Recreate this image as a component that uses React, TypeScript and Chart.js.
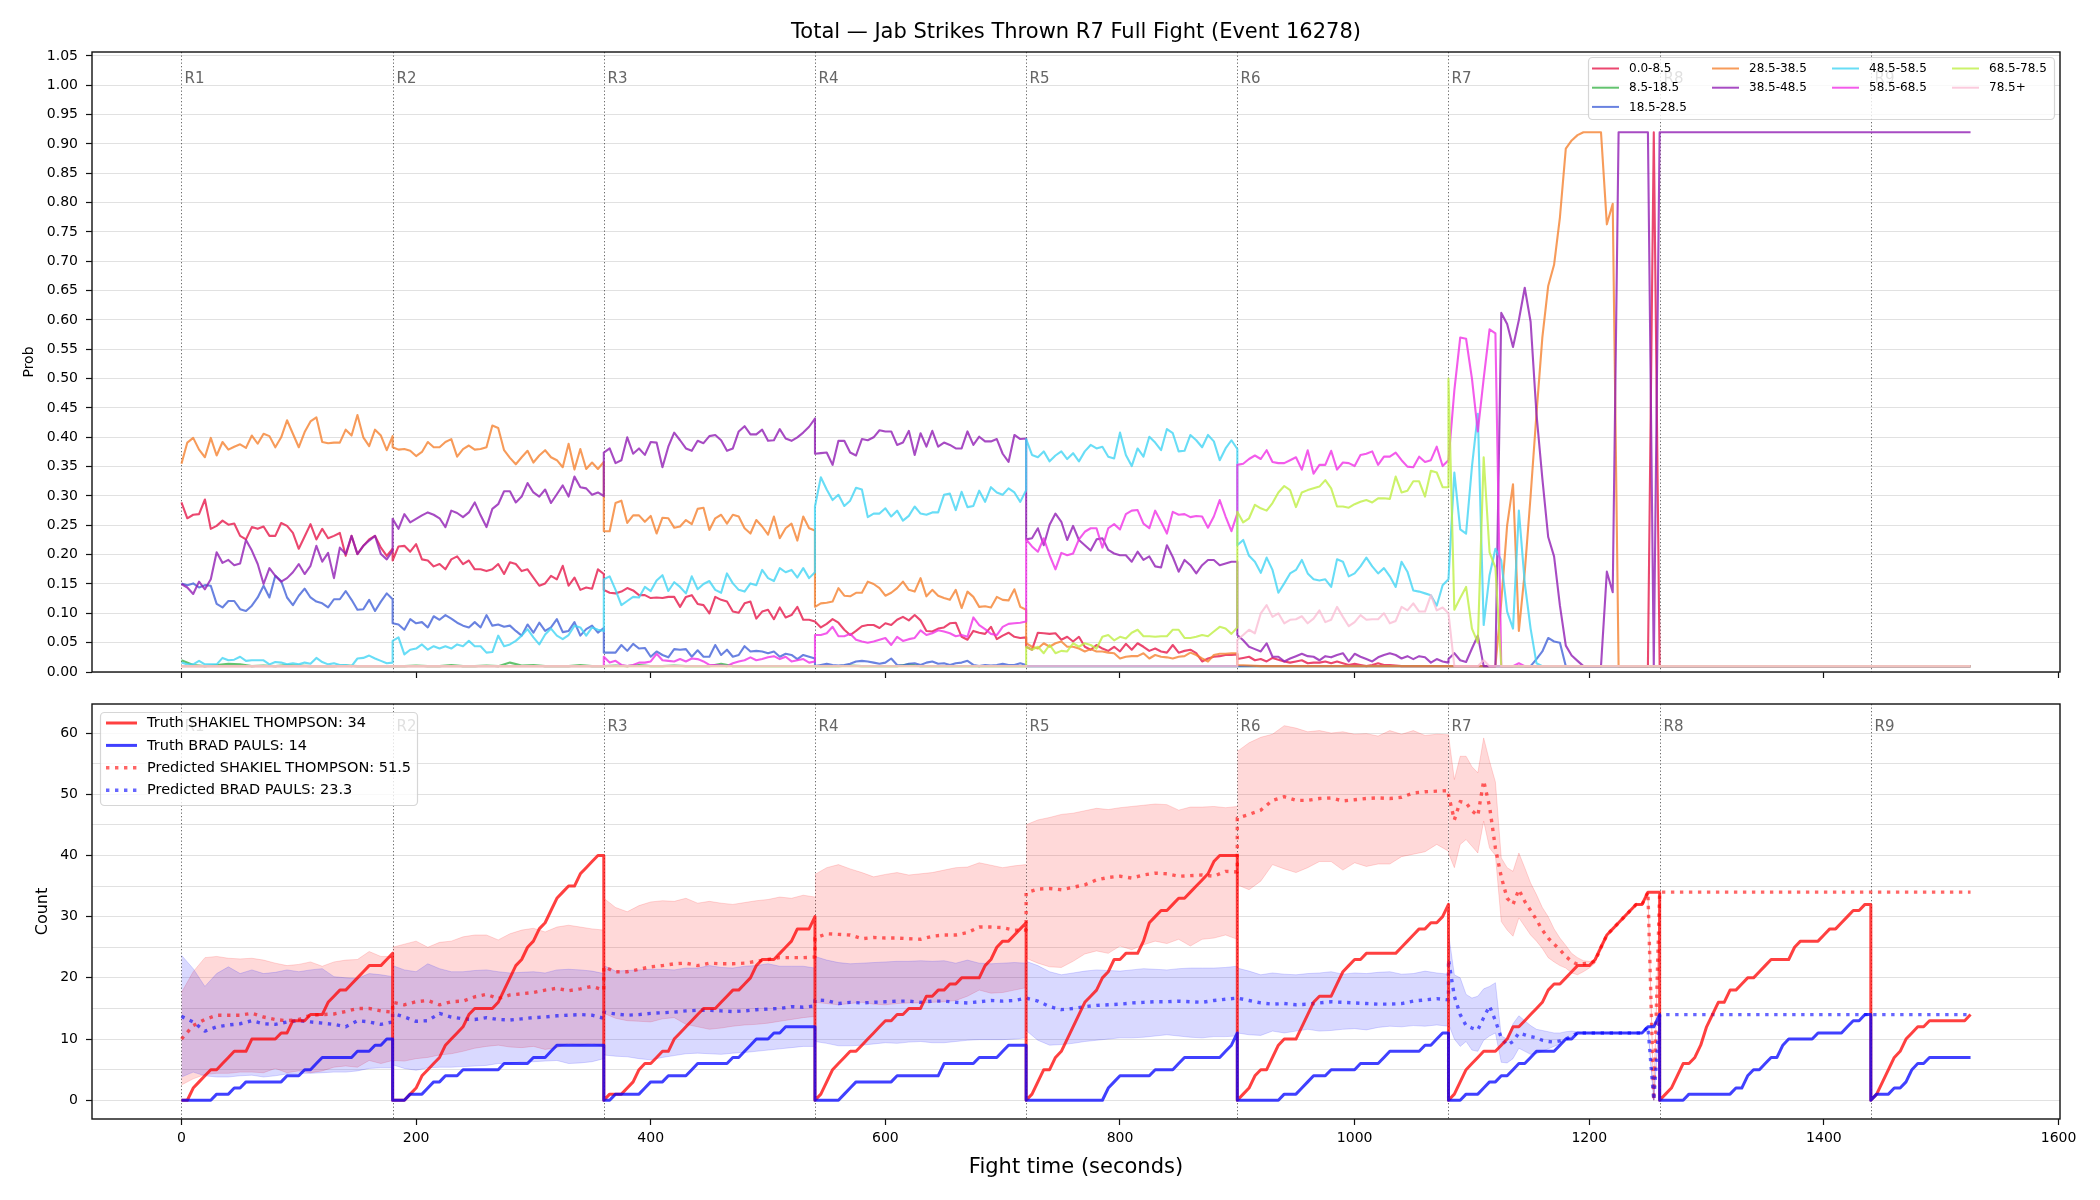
import React, { useEffect, useRef } from "react";
import { Chart, registerables } from "chart.js";

Chart.register(...registerables);

const FONT = '"DejaVu Sans", "Liberation Sans", sans-serif';

const TITLE = "Total — Jab Strikes Thrown R7 Full Fight (Event 16278)";
const X_TITLE = "Fight time (seconds)";

// Rounds: each value list is spread evenly from the round start to its end.
const ROUND_LABELS = ["R1", "R2", "R3", "R4", "R5", "R6", "R7", "R8", "R9"];
const ROUND_STARTS = [0, 180, 360, 540, 720, 900, 1080, 1260, 1440];
const ROUND_ENDS = [180, 360, 540, 720, 900, 1080, 1260, 1440, 1525];

const BIN_LABELS = ["0.0-8.5", "8.5-18.5", "18.5-28.5", "28.5-38.5", "38.5-48.5", "48.5-58.5", "58.5-68.5", "68.5-78.5", "78.5+"];
const BIN_COLORS = [
  "rgba(230,25,75,0.8)", "rgba(60,180,75,0.8)", "rgba(67,99,216,0.8)", "rgba(245,130,49,0.8)",
  "rgba(145,30,180,0.8)", "rgba(66,212,244,0.8)", "rgba(240,50,230,0.8)", "rgba(191,239,69,0.8)", "rgba(250,190,212,0.8)",
];

// ---- bin probabilities, one list per round ----
const PROB_0_8 = [
  [0.289,0.262,0.268,0.269,0.294,0.244,0.249,0.258,0.251,0.253,0.232,0.226,0.247,0.244,0.248,0.232,0.232,0.254,0.249,0.237,0.210,0.231,0.252,0.226,0.244,0.228,0.232,0.237,0.198,0.232,0.201,0.215,0.226,0.232,0.212,0.198,0.210],
  [0.190,0.214,0.215,0.205,0.218,0.192,0.190,0.180,0.184,0.175,0.192,0.197,0.184,0.190,0.175,0.175,0.172,0.175,0.184,0.167,0.187,0.184,0.172,0.175,0.161,0.147,0.151,0.164,0.158,0.181,0.147,0.161,0.140,0.144,0.142,0.175,0.167],
  [0.140,0.135,0.134,0.137,0.143,0.139,0.131,0.131,0.126,0.127,0.126,0.128,0.128,0.111,0.128,0.131,0.116,0.114,0.100,0.128,0.123,0.120,0.103,0.101,0.117,0.120,0.091,0.103,0.106,0.090,0.110,0.093,0.097,0.111,0.089,0.089,0.086],
  [0.086,0.076,0.082,0.090,0.084,0.072,0.063,0.070,0.078,0.080,0.080,0.075,0.083,0.080,0.089,0.094,0.088,0.097,0.088,0.070,0.069,0.074,0.076,0.083,0.084,0.060,0.055,0.070,0.067,0.065,0.077,0.056,0.062,0.067,0.060,0.058,0.059],
  [0.043,0.038,0.067,0.066,0.065,0.066,0.055,0.060,0.052,0.060,0.043,0.038,0.046,0.040,0.036,0.043,0.035,0.048,0.038,0.049,0.043,0.036,0.040,0.035,0.033,0.046,0.033,0.036,0.038,0.032,0.018,0.023,0.026,0.027,0.029,0.029,0.030],
  [0.022,0.024,0.026,0.020,0.022,0.018,0.024,0.021,0.018,0.016,0.018,0.020,0.015,0.016,0.016,0.018,0.015,0.018,0.015,0.012,0.014,0.012,0.010,0.012,0.015,0.012,0.012,0.011,0.010,0.010,0.010,0.010,0.010,0.010,0.010,0.010,0.010],
  [0.01,0.01,0.01,0.01,0.01,0.01,0.01,0.01,0.01,0.01,0.01,0.01,0.01,0.01,0.01,0.01,0.01,0.01,0.01,0.01,0.01,0.01,0.01,0.01,0.01,0.01,0.01,0.01,0.01,0.01,0.01,0.01,0.01,0.01,0.01,0.92,0.01],
  [0.01, 0.01],
  [0.01, 0.01],
];
const PROB_8_18 = [
  [0.020,0.012,0.010,0.012,0.014,0.013,0.010,0.011,0.010,0.012,0.011,0.010,0.010,0.010,0.011,0.010,0.010,0.010,0.010],
  [0.010,0.010,0.011,0.010,0.010,0.012,0.010,0.010,0.011,0.010,0.016,0.011,0.012,0.010,0.010,0.010,0.012,0.010,0.010],
  [0.010,0.011,0.010,0.012,0.010,0.010,0.011,0.010,0.010,0.010,0.014,0.010,0.010,0.010,0.010,0.010,0.010,0.010,0.010],
  [0.010,0.010,0.010,0.011,0.010,0.010,0.010,0.010,0.013,0.010,0.010,0.010,0.010,0.010,0.010,0.010,0.010,0.010,0.010],
  [0.01, 0.01], [0.01, 0.01], [0.01, 0.01], [0.01, 0.01], [0.01, 0.01],
];
const PROB_18_28 = [
  [0.151,0.148,0.151,0.144,0.148,0.147,0.116,0.110,0.121,0.121,0.107,0.104,0.113,0.127,0.147,0.127,0.164,0.155,0.127,0.114,0.130,0.142,0.127,0.120,0.117,0.110,0.124,0.124,0.138,0.123,0.106,0.107,0.123,0.104,0.120,0.134,0.124],
  [0.083,0.081,0.072,0.090,0.083,0.085,0.076,0.095,0.089,0.097,0.091,0.084,0.079,0.076,0.085,0.076,0.097,0.079,0.081,0.077,0.079,0.070,0.062,0.081,0.067,0.084,0.070,0.076,0.090,0.068,0.070,0.085,0.062,0.073,0.079,0.067,0.075],
  [0.033,0.033,0.033,0.046,0.036,0.048,0.040,0.041,0.026,0.035,0.029,0.025,0.039,0.038,0.039,0.026,0.037,0.026,0.026,0.046,0.029,0.038,0.026,0.029,0.044,0.035,0.036,0.035,0.032,0.035,0.026,0.031,0.029,0.022,0.029,0.026,0.023],
  [0.010,0.012,0.014,0.012,0.011,0.012,0.014,0.018,0.019,0.018,0.016,0.014,0.016,0.023,0.012,0.011,0.014,0.015,0.012,0.016,0.018,0.014,0.015,0.012,0.015,0.016,0.019,0.012,0.010,0.012,0.011,0.012,0.014,0.012,0.012,0.015,0.012],
  [0.01, 0.01],
  [0.01, 0.01],
  [0.01,0.01,0.01,0.01,0.01,0.01,0.01,0.01,0.01,0.01,0.01,0.01,0.01,0.01,0.01,0.022,0.035,0.058,0.052,0.050,0.01,0.01,0.01,0.01,0.01,0.01,0.01,0.01,0.01,0.01,0.01,0.01,0.01,0.01,0.01,0.01,0.01],
  [0.01, 0.01],
  [0.01, 0.01],
];
const PROB_28_38 = [
  [0.355,0.391,0.399,0.379,0.366,0.399,0.369,0.392,0.379,0.384,0.388,0.382,0.403,0.389,0.406,0.402,0.383,0.400,0.429,0.406,0.383,0.409,0.427,0.434,0.392,0.390,0.391,0.391,0.413,0.403,0.438,0.400,0.385,0.413,0.403,0.378,0.402],
  [0.383,0.379,0.380,0.377,0.368,0.375,0.392,0.383,0.383,0.392,0.397,0.367,0.380,0.386,0.379,0.380,0.383,0.420,0.416,0.378,0.365,0.354,0.366,0.377,0.357,0.369,0.378,0.366,0.361,0.349,0.389,0.345,0.380,0.346,0.357,0.346,0.358],
  [0.240,0.240,0.288,0.292,0.254,0.267,0.267,0.256,0.266,0.236,0.263,0.262,0.246,0.248,0.259,0.252,0.278,0.280,0.242,0.262,0.268,0.253,0.268,0.265,0.245,0.236,0.259,0.248,0.234,0.265,0.228,0.245,0.253,0.224,0.265,0.245,0.241],
  [0.111,0.117,0.118,0.120,0.143,0.130,0.129,0.135,0.135,0.154,0.150,0.143,0.130,0.135,0.143,0.154,0.140,0.137,0.160,0.129,0.140,0.130,0.126,0.123,0.140,0.109,0.137,0.128,0.111,0.112,0.110,0.128,0.123,0.122,0.141,0.111,0.106],
  [0.049,0.043,0.040,0.049,0.043,0.049,0.052,0.043,0.043,0.040,0.035,0.039,0.035,0.035,0.033,0.032,0.023,0.026,0.027,0.027,0.032,0.023,0.029,0.026,0.025,0.023,0.026,0.027,0.033,0.029,0.023,0.018,0.029,0.031,0.031,0.032,0.032],
  [0.012,0.011,0.010,0.010,0.010,0.010,0.010,0.010,0.010,0.010,0.010,0.010,0.010,0.010,0.010,0.010,0.010,0.010,0.010],
  [0.01,0.01,0.01,0.01,0.01,0.01,0.01,0.01,0.01,0.12,0.25,0.32,0.07,0.17,0.30,0.44,0.57,0.658,0.694,0.775,0.892,0.906,0.915,0.92,0.92,0.92,0.92,0.763,0.798,0.01,0.01,0.01,0.01,0.01,0.01,0.01,0.01],
  [0.01, 0.01],
  [0.01, 0.01],
];
const PROB_38_48 = [
  [0.150,0.144,0.133,0.154,0.141,0.158,0.204,0.186,0.191,0.182,0.185,0.225,0.207,0.184,0.150,0.177,0.164,0.154,0.160,0.170,0.184,0.167,0.181,0.215,0.188,0.203,0.160,0.212,0.201,0.232,0.201,0.215,0.224,0.232,0.201,0.192,0.207],
  [0.261,0.244,0.269,0.255,0.261,0.267,0.272,0.268,0.262,0.247,0.275,0.271,0.264,0.272,0.289,0.267,0.247,0.278,0.286,0.308,0.308,0.289,0.299,0.322,0.306,0.299,0.311,0.288,0.303,0.318,0.299,0.333,0.315,0.313,0.302,0.306,0.300],
  [0.374,0.381,0.356,0.361,0.400,0.372,0.381,0.370,0.392,0.391,0.349,0.384,0.408,0.395,0.381,0.377,0.394,0.390,0.402,0.404,0.395,0.377,0.381,0.410,0.419,0.405,0.405,0.413,0.394,0.395,0.414,0.398,0.394,0.400,0.408,0.418,0.432],
  [0.372,0.373,0.374,0.353,0.394,0.394,0.374,0.369,0.397,0.395,0.400,0.412,0.410,0.410,0.387,0.391,0.411,0.370,0.407,0.384,0.411,0.384,0.391,0.387,0.381,0.381,0.410,0.387,0.401,0.393,0.393,0.397,0.372,0.358,0.404,0.397,0.398],
  [0.226,0.228,0.245,0.216,0.251,0.270,0.256,0.225,0.249,0.225,0.216,0.207,0.226,0.228,0.208,0.202,0.199,0.199,0.188,0.205,0.191,0.197,0.180,0.178,0.216,0.196,0.171,0.191,0.182,0.168,0.182,0.191,0.191,0.182,0.185,0.188,0.188],
  [0.063,0.054,0.043,0.039,0.035,0.049,0.026,0.026,0.018,0.023,0.027,0.031,0.027,0.026,0.020,0.027,0.025,0.029,0.032,0.018,0.031,0.026,0.022,0.018,0.025,0.029,0.032,0.029,0.023,0.027,0.022,0.027,0.025,0.016,0.022,0.018,0.016],
  [0.022,0.032,0.020,0.017,0.040,0.062,0.010,0.010,0.010,0.612,0.593,0.554,0.600,0.655,0.597,0.440,0.330,0.230,0.197,0.113,0.045,0.028,0.019,0.010,0.010,0.010,0.010,0.171,0.136,0.920,0.920,0.920,0.920,0.920,0.920,0.010,0.920],
  [0.92, 0.92],
  [0.92, 0.92],
];
const PROB_48_58 = [
  [0.016,0.013,0.013,0.019,0.013,0.013,0.013,0.024,0.020,0.021,0.026,0.019,0.020,0.020,0.020,0.013,0.017,0.016,0.013,0.015,0.013,0.016,0.014,0.024,0.017,0.013,0.015,0.012,0.012,0.010,0.023,0.024,0.028,0.023,0.019,0.015,0.016],
  [0.053,0.059,0.030,0.038,0.040,0.047,0.038,0.044,0.040,0.044,0.040,0.047,0.044,0.053,0.044,0.044,0.033,0.034,0.062,0.044,0.047,0.053,0.062,0.073,0.059,0.047,0.064,0.074,0.062,0.056,0.063,0.079,0.076,0.062,0.076,0.072,0.070],
  [0.158,0.163,0.140,0.114,0.121,0.128,0.127,0.145,0.138,0.156,0.165,0.138,0.153,0.145,0.134,0.163,0.141,0.150,0.155,0.140,0.135,0.168,0.151,0.140,0.137,0.151,0.148,0.174,0.160,0.155,0.177,0.170,0.174,0.161,0.177,0.160,0.170],
  [0.282,0.332,0.311,0.293,0.302,0.283,0.292,0.314,0.311,0.264,0.270,0.270,0.279,0.265,0.275,0.258,0.266,0.282,0.270,0.268,0.272,0.272,0.302,0.304,0.276,0.307,0.281,0.283,0.309,0.290,0.315,0.306,0.302,0.313,0.306,0.290,0.310],
  [0.397,0.370,0.366,0.376,0.359,0.369,0.376,0.363,0.373,0.359,0.376,0.387,0.381,0.384,0.367,0.364,0.408,0.370,0.351,0.381,0.367,0.401,0.391,0.378,0.414,0.407,0.376,0.377,0.404,0.395,0.383,0.404,0.393,0.361,0.381,0.395,0.380],
  [0.216,0.225,0.198,0.188,0.169,0.195,0.174,0.135,0.151,0.168,0.174,0.191,0.168,0.158,0.156,0.158,0.145,0.192,0.188,0.163,0.168,0.180,0.195,0.180,0.168,0.177,0.163,0.145,0.188,0.171,0.139,0.137,0.134,0.131,0.113,0.148,0.158],
  [0.158,0.340,0.243,0.236,0.350,0.440,0.080,0.165,0.210,0.190,0.103,0.074,0.275,0.152,0.074,0.015,0.01,0.01,0.01,0.01,0.01,0.01,0.01,0.01,0.01,0.01,0.01,0.01,0.01,0.01,0.01,0.01,0.01,0.01,0.01,0.01,0.01],
  [0.01, 0.01],
  [0.01, 0.01],
];
const PROB_58_68 = [
  [0.01, 0.01],
  [0.01, 0.01],
  [0.026,0.016,0.019,0.012,0.010,0.012,0.016,0.016,0.018,0.031,0.020,0.019,0.018,0.022,0.018,0.023,0.022,0.018,0.012,0.012,0.011,0.010,0.015,0.018,0.020,0.025,0.020,0.022,0.025,0.027,0.022,0.026,0.018,0.020,0.022,0.016,0.018],
  [0.063,0.063,0.066,0.077,0.061,0.061,0.065,0.055,0.052,0.050,0.052,0.055,0.058,0.046,0.060,0.053,0.056,0.058,0.071,0.063,0.066,0.071,0.069,0.066,0.061,0.063,0.060,0.093,0.080,0.073,0.065,0.063,0.077,0.082,0.083,0.084,0.086],
  [0.226,0.214,0.205,0.228,0.199,0.175,0.203,0.199,0.202,0.226,0.239,0.245,0.245,0.212,0.245,0.252,0.243,0.269,0.275,0.276,0.253,0.245,0.275,0.256,0.236,0.273,0.268,0.269,0.264,0.266,0.265,0.246,0.265,0.293,0.265,0.240,0.270],
  [0.353,0.355,0.363,0.369,0.363,0.378,0.358,0.356,0.356,0.361,0.366,0.345,0.378,0.338,0.353,0.353,0.377,0.345,0.357,0.356,0.351,0.370,0.372,0.376,0.353,0.367,0.367,0.374,0.361,0.350,0.349,0.367,0.358,0.361,0.384,0.351,0.361],
  [0.360,0.480,0.570,0.568,0.500,0.410,0.500,0.584,0.577,0.01,0.01,0.01,0.015,0.01,0.01,0.01,0.01,0.01,0.01,0.01,0.01,0.01,0.01,0.01,0.01,0.01,0.01,0.01,0.01,0.01,0.01,0.01,0.01,0.01,0.01,0.01,0.01],
  [0.01, 0.01],
  [0.01, 0.01],
];
const PROB_68_78 = [
  [0.01, 0.01],
  [0.01, 0.01],
  [0.01, 0.01],
  [0.01, 0.01],
  [0.043,0.038,0.043,0.032,0.046,0.032,0.036,0.035,0.049,0.043,0.049,0.046,0.040,0.060,0.063,0.054,0.060,0.057,0.067,0.072,0.061,0.061,0.060,0.061,0.061,0.072,0.072,0.058,0.058,0.060,0.063,0.061,0.069,0.077,0.074,0.065,0.076],
  [0.273,0.255,0.262,0.285,0.279,0.275,0.288,0.306,0.317,0.310,0.281,0.306,0.310,0.313,0.316,0.327,0.313,0.282,0.282,0.280,0.286,0.290,0.293,0.289,0.296,0.296,0.295,0.333,0.306,0.309,0.325,0.325,0.299,0.343,0.340,0.315,0.315],
  [0.500,0.106,0.126,0.145,0.074,0.050,0.366,0.204,0.178,0.01,0.01,0.01,0.01,0.01,0.01,0.01,0.01,0.01,0.01,0.01,0.01,0.01,0.01,0.01,0.01,0.01,0.01,0.01,0.01,0.01,0.01,0.01,0.01,0.01,0.01,0.01,0.01],
  [0.01, 0.01],
  [0.01, 0.01],
];
const PROB_78_UP = [
  [0.01, 0.01],
  [0.01, 0.01],
  [0.01, 0.01],
  [0.01, 0.01],
  [0.01, 0.01],
  [0.055,0.063,0.072,0.066,0.100,0.114,0.094,0.100,0.083,0.089,0.090,0.095,0.083,0.091,0.105,0.085,0.089,0.111,0.094,0.078,0.085,0.097,0.089,0.090,0.090,0.100,0.083,0.087,0.111,0.105,0.117,0.103,0.103,0.131,0.105,0.110,0.100],
  [0.100,0.01,0.01,0.01,0.01,0.01,0.02,0.01,0.01,0.01,0.01,0.01,0.01,0.01,0.01,0.01,0.01,0.01,0.01,0.01,0.01,0.01,0.01,0.01,0.01,0.01,0.01,0.01,0.01,0.01,0.01,0.01,0.01,0.01,0.01,0.01,0.01],
  [0.01, 0.01],
  [0.01, 0.01],
];
const PROB_BINS = [PROB_0_8, PROB_8_18, PROB_18_28, PROB_28_38, PROB_38_48, PROB_48_58, PROB_58_68, PROB_68_78, PROB_78_UP];

// ---- cumulative counts ----
const TRUTH_THOMPSON = [
  [0,0,2,3,4,5,5,6,7,8,8,8,10,10,10,10,10,11,11,13,13,13,14,14,14,16,17,18,18,19,20,21,22,22,22,23,24],
  [0,0,0,1,2,4,5,6,7,9,10,11,12,14,15,15,15,15,16,18,20,22,23,25,26,28,29,31,33,34,35,35,37,38,39,40,40],
  [0,1,1,1,2,3,5,6,6,7,8,8,10,11,12,13,14,15,15,15,16,17,18,18,19,20,22,23,23,23,24,25,26,28,28,28,30],
  [0,1,3,5,6,7,8,8,9,10,11,12,13,13,14,14,15,15,15,17,17,18,18,19,19,20,20,20,20,22,23,25,26,26,27,28,29],
  [0,1,3,5,5,7,8,10,12,14,16,17,18,20,21,23,23,24,24,24,26,29,30,31,31,32,33,33,34,35,36,37,39,40,40,40,40],
  [0,1,2,4,5,5,7,9,10,10,10,12,14,16,17,17,17,19,21,22,23,23,24,24,24,24,24,24,25,26,27,28,28,29,29,30,32],
  [0,1,3,5,6,7,8,8,8,9,10,12,12,13,14,15,16,18,19,19,20,21,22,22,22,23,25,27,28,29,30,31,32,32,34,34,34],
  [0,1,2,4,6,6,7,9,12,14,16,16,18,18,19,20,20,21,22,23,23,23,23,25,26,26,26,26,27,28,28,29,30,31,31,32,32],
  [0,1,3,5,7,8,10,11,12,12,13,13,13,13,13,13,13,14],
];
const TRUTH_PAULS = [
  [0,0,0,0,0,0,1,1,1,2,2,3,3,3,3,3,3,3,4,4,4,5,5,6,7,7,7,7,7,7,8,8,8,9,9,10,10],
  [0,0,0,1,1,1,2,3,3,4,4,4,5,5,5,5,5,5,5,6,6,6,6,6,7,7,7,8,9,9,9,9,9,9,9,9,9],
  [0,0,1,1,1,1,1,2,3,3,3,4,4,4,4,5,6,6,6,6,6,6,7,7,8,9,10,10,10,11,11,12,12,12,12,12,12],
  [0,0,0,0,0,1,2,3,3,3,3,3,3,3,4,4,4,4,4,4,4,4,6,6,6,6,6,6,7,7,7,7,8,9,9,9,9],
  [0,0,0,0,0,0,0,0,0,0,0,0,0,0,2,3,4,4,4,4,4,4,5,5,5,5,6,7,7,7,7,7,7,7,8,9,11],
  [0,0,0,0,0,0,0,0,1,1,1,2,3,4,4,4,5,5,5,5,5,6,6,6,6,7,8,8,8,8,8,8,9,9,10,11,11],
  [0,0,0,1,1,1,2,3,3,4,4,5,6,6,7,8,8,8,8,9,10,10,11,11,11,11,11,11,11,11,11,11,11,11,12,12,14],
  [0,0,0,0,0,1,1,1,1,1,1,1,1,2,2,4,5,5,6,7,7,9,10,10,10,10,10,11,11,11,11,11,12,13,13,14,14],
  [0,1,1,1,2,2,3,5,6,6,7,7,7,7,7,7,7,7],
];
const PRED_THOMPSON = [
  [10.0,12.2,13.2,13.9,13.9,13.9,14.2,13.6,13.2,13.0,13.2,13.9,14.0,14.1,14.5,15.0,15.0,14.6,14.4],
  [16.0,15.6,16.1,16.3,15.6,16.1,16.2,16.9,17.3,16.6,17.2,17.4,17.6,18.0,18.3,17.9,18.2,18.6,18.0],
  [21.8,21.0,21.0,21.4,21.8,22.0,22.3,22.4,22.0,22.4,22.3,22.3,22.4,22.7,23.0,23.3,23.3,23.3,23.4],
  [26.5,27.2,27.1,27.0,26.4,26.6,26.5,26.5,26.4,26.3,26.8,27.0,27.0,27.4,28.3,28.3,28.2,27.8,27.8],
  [33.9,34.5,34.6,34.4,34.8,35.2,36.0,36.4,36.6,36.3,36.8,37.1,37.0,36.6,36.7,36.8,36.6,37.4,37.3],
  [46.1,46.7,47.4,49.0,49.6,49.0,49.0,49.3,49.4,48.9,49.1,49.3,49.4,49.3,49.5,50.2,50.4,50.5,50.6],
  [49.9,45.8,48.8,48.6,47.3,46.5,52.2,48.0,41.2,36.5,33.0,32.0,34.4,32.5,31.0,29.5,27.8,26.5,25.5,24.6,23.5,22.7,22.2,22.3,22.4,22.7,25,27,28,29,30,31,32,32,34,0,34],
  [34, 34],
  [34, 34],
];
const PRED_PAULS = [
  [13.7,12.8,11.3,12.0,12.3,12.5,13.0,12.5,12.4,12.8,13.0,12.8,12.6,12.4,12.0,13.0,12.8,12.4,12.8],
  [14.2,13.6,12.9,13.0,14.2,13.6,13.3,13.2,13.5,13.2,13.1,13.3,13.5,13.6,13.8,13.9,14.0,13.9,13.4],
  [14.4,14.1,13.9,14.0,14.2,14.3,14.4,14.6,14.7,14.7,14.6,14.5,14.6,14.8,14.9,15.0,15.3,15.2,15.4],
  [16.4,16.3,15.8,16.0,15.9,16.0,16.1,16.2,16.2,16.0,16.2,16.2,16.0,15.9,16.1,16.3,16.2,16.3,16.7],
  [16.7,16.2,15.3,14.8,15.0,15.3,15.5,15.6,15.7,15.9,16.0,16.1,16.1,16.2,16.1,16.0,16.3,16.5,16.7],
  [16.7,16.3,15.9,15.7,15.8,15.6,15.7,15.9,16.1,16.0,15.9,15.8,15.7,15.7,15.8,16.2,16.4,16.6,16.4],
  [23.0,17.0,14.0,12.2,11.8,11.5,13.5,15.4,13.0,10.2,9.0,9.6,11.0,10.7,10.4,10.2,9.8,9.6,9.5,9.7,10.0,10.5,11.0,11,11,11,11,11,11,11,11,11,11,11,12,0,14],
  [14, 14],
  [14, 14],
];
// Prediction intervals, rounds 1-7
const BAND_THOMPSON_LO = [
  [2.5,3.5,4.2,4.4,4.4,4.6,4.6,4.5,5.2,4.5,4.8,4.5,4.8,5.4,5.6,5.4,6.5,6.0,6.5],
  [6.5,6.4,6.8,7.0,7.4,7.6,8.0,8.5,8.8,9.0,8.7,8.6,8.8,8.3,8.6,9.3,9.0,9.3,8.7],
  [14.2,13.4,13.0,12.9,12.8,13.3,13.5,12.4,12.0,11.6,11.8,12.1,12.3,12.4,12.6,12.9,13.2,13.5,13.7],
  [16.0,15.8,15.6,15.8,16.0,15.7,15.6,15.8,15.9,15.9,16.0,16.1,16.3,17.0,18.0,17.5,17.6,18.0,18.4],
  [23.2,22.4,21.8,21.7,22.7,23.9,24.4,24.0,25.2,24.6,25.4,26.0,25.6,26.3,25.2,26.3,26.5,27.0,26.3],
  [35.2,34.4,35.8,38.5,37.8,37.2,38.0,39.0,39.0,37.6,38.8,38.2,38.6,38.6,39.8,40.2,40.6,41.8,40.7],
  [40.4,38.0,41.8,42.6,41.5,40.4,45.6,41.2,40.0,29.2,27.8,26.8,29.8,28.4,27.0,26.0,24.8,23.3,22.6,22.0,21.6,20.8,20.5,21.0,21.6,22.4,25,27,28,29,30,31,32,32,34,0,34],
];
const BAND_THOMPSON_HI = [
  [17.6,21.0,23.3,23.5,23.2,23.1,23.2,22.9,22.4,22.0,22.2,22.6,21.9,22.6,22.9,23.0,24.3,23.5,23.5],
  [25.0,25.5,26.0,25.0,25.8,26.0,26.7,27.0,27.0,26.2,27.2,27.8,28.1,27.5,28.3,28.6,28.3,28.0,27.8],
  [33.0,31.5,30.8,31.8,32.4,32.6,32.5,33.0,32.2,32.5,32.2,32.0,32.3,32.6,32.8,33.2,33.0,33.5,33.2],
  [36.9,38.0,38.5,37.8,37.2,36.5,36.9,37.2,36.8,37.0,37.2,37.6,38.0,38.1,38.8,38.4,38.0,38.3,38.5],
  [45.0,45.8,46.2,46.7,46.9,47.3,47.7,47.5,47.8,48.0,48.2,48.4,48.3,47.4,47.9,47.9,48.0,47.8,48.0],
  [57.0,58.4,59.3,59.8,61.2,60.8,60.2,60.4,60.0,60.2,59.8,59.9,59.5,60.4,59.8,60.4,59.6,59.8,59.7],
  [59.7,52.4,56.2,56.2,54.5,53.5,59.2,55.4,52.0,39.6,38.0,37.4,40.4,38.0,35.5,33.6,31.5,30.0,28.0,26.5,25.3,24.0,23.3,22.8,22.7,22.7,25,27,28,29,30,31,32,32,34,0,34],
];
const BAND_PAULS_LO = [
  [3.8,4.6,4.0,3.8,3.8,4.0,4.1,3.8,4.0,4.3,4.4,4.4,4.5,4.6,4.6,4.8,5.2,5.3,5.3],
  [5.8,5.2,4.9,5.3,5.4,5.4,5.5,5.6,5.7,6.0,6.0,6.3,6.3,6.4,6.5,6.0,6.1,6.3,6.8],
  [7.4,7.2,7.1,6.8,6.6,7.0,7.3,7.6,7.7,7.6,7.5,7.7,7.8,8.0,8.2,8.4,8.6,8.8,8.8],
  [9.6,9.3,8.9,8.9,9.0,9.2,9.4,9.3,9.5,9.6,9.4,9.4,9.6,9.8,9.9,9.9,9.9,10.0,10.2],
  [11.4,9.8,9.0,9.1,9.3,9.6,9.8,10.0,10.2,10.2,10.3,10.5,10.7,10.5,10.3,10.2,10.4,10.4,10.5],
  [11.0,10.7,10.6,11.3,11.0,11.3,11.6,11.3,11.4,11.6,11.7,11.5,11.9,12.1,12.0,12.2,12.1,12.3,12.1],
  [12.5,10.0,8.8,9.6,8.2,8.0,9.8,10.5,11.0,6.2,6.1,6.8,8.5,8.0,7.5,7.6,8.0,8.4,8.8,9.2,9.8,10.4,11.0,11,11,11,11,11,11,11,11,11,11,11,12,0,14],
];
const BAND_PAULS_HI = [
  [23.7,21.5,18.6,20.7,21.8,20.7,21.3,20.7,20.9,21.3,21.0,21.3,21.5,20.2,20.0,19.9,20.7,20.5,20.2],
  [22.0,21.3,21.0,22.3,21.5,21.0,21.0,21.2,21.3,21.0,20.8,20.9,21.0,20.8,21.3,21.4,21.3,21.1,20.7],
  [22.0,21.1,21.2,21.3,21.4,21.4,21.3,21.6,21.6,22.0,21.7,21.6,21.9,22.0,22.3,21.9,21.9,21.9,21.6],
  [23.5,22.9,22.5,22.3,22.4,22.5,22.6,22.7,22.7,22.8,22.7,22.8,22.4,22.9,22.4,22.3,22.4,22.5,22.4],
  [22.7,22.0,21.0,20.5,20.8,21.1,21.3,21.2,21.1,21.3,21.5,21.4,21.3,21.5,21.6,21.6,21.6,21.7,21.9],
  [21.6,21.1,20.5,20.8,20.6,20.5,20.7,20.8,21.0,20.6,20.8,20.7,20.9,21.0,20.6,20.7,21.1,20.8,20.6],
  [27.3,20.5,20.0,17.3,16.7,17.0,18.2,18.6,19.2,10.5,10.0,12.5,13.8,13.0,12.2,11.6,11.4,11.2,11.0,11.0,11.2,11.3,11.2,11,11,11,11,11,11,11,11,11,11,11,12,0,14],
];

const LEGEND_BOTTOM = [
  { label: "Truth SHAKIEL THOMPSON: 34", color: "rgba(255,0,0,0.75)", width: 3, dash: null },
  { label: "Truth BRAD PAULS: 14", color: "rgba(0,0,255,0.75)", width: 3, dash: null },
  { label: "Predicted SHAKIEL THOMPSON: 51.5", color: "rgba(255,0,0,0.6)", width: 3.4, dash: [3.4, 5.6] },
  { label: "Predicted BRAD PAULS: 23.3", color: "rgba(0,0,255,0.6)", width: 3.4, dash: [3.4, 5.6] },
];

const GRID_COLOR = "rgba(176,176,176,0.38)";

function roundPoints(r: number, values: number[]) {
  const t0 = ROUND_STARTS[r];
  const t1 = ROUND_ENDS[r];
  const step = (t1 - t0) / (values.length - 1);
  return values.map((v, i) => ({ x: t0 + i * step, y: v }));
}
function seriesPoints(rounds: number[][]) {
  return rounds.flatMap((vals, r) => roundPoints(r, vals));
}

function strokeHandle(ctx: CanvasRenderingContext2D, x1: number, x2: number, y: number, color: string, width: number, dash: number[] | null) {
  ctx.save();
  ctx.strokeStyle = color;
  ctx.lineWidth = width;
  ctx.lineCap = "butt";
  ctx.setLineDash(dash || []);
  ctx.beginPath();
  ctx.moveTo(x1, y);
  ctx.lineTo(x2, y);
  ctx.stroke();
  ctx.restore();
}

function legendFrame(ctx: CanvasRenderingContext2D, x: number, y: number, w: number, h: number) {
  ctx.save();
  ctx.beginPath();
  (ctx as any).roundRect(x + 0.5, y + 0.5, w, h, 4);
  ctx.fillStyle = "rgba(255,255,255,0.8)";
  ctx.fill();
  ctx.strokeStyle = "rgba(204,204,204,0.8)";
  ctx.lineWidth = 1.2;
  ctx.stroke();
  ctx.restore();
}

// Dotted round separators with R1..R9 captions
const roundMarkers = {
  id: "roundMarkers",
  beforeDatasetsDraw(chart: any, _args: any, opts: any) {
    const { ctx, chartArea: a, scales } = chart;
    ctx.save();
    ctx.beginPath();
    ctx.rect(a.left, a.top, a.right - a.left, a.bottom - a.top);
    ctx.clip();
    ROUND_STARTS.forEach((t, i) => {
      const x = Math.round(scales.x.getPixelForValue(t)) + 0.5;
      ctx.strokeStyle = "rgba(60,60,60,0.75)";
      ctx.lineWidth = 1;
      ctx.setLineDash([1.3, 2.2]);
      ctx.beginPath();
      ctx.moveTo(x, a.top);
      ctx.lineTo(x, a.bottom);
      ctx.stroke();
      ctx.setLineDash([]);
      ctx.fillStyle = "#666";
      ctx.font = `15px ${FONT}`;
      ctx.textAlign = "left";
      ctx.textBaseline = "alphabetic";
      ctx.fillText(ROUND_LABELS[i], x + 3, scales.y.getPixelForValue(opts.labelAt) - 2);
    });
    ctx.restore();
  },
};

// Axes frame on all four sides
const frame = {
  id: "frame",
  afterDatasetsDraw(chart: any) {
    const { ctx, chartArea: a } = chart;
    ctx.save();
    ctx.strokeStyle = "#111";
    ctx.lineWidth = 1.4;
    ctx.strokeRect(a.left, a.top, a.right - a.left, a.bottom - a.top);
    ctx.restore();
  },
};

const topExtras = {
  id: "topExtras",
  afterDraw(chart: any) {
    const { ctx, chartArea: a } = chart;
    ctx.save();
    ctx.fillStyle = "#000";
    ctx.font = `21px ${FONT}`;
    ctx.textAlign = "center";
    ctx.textBaseline = "middle";
    ctx.fillText(TITLE, (a.left + a.right) / 2, 32.5);

    // legend: four columns, filled column by column
    const w = 466, h = 62;
    const bx = a.right - 6 - w, by = a.top + 5;
    legendFrame(ctx, bx, by, w, h);
    const columns = [[0, 1, 2], [3, 4], [5, 6], [7, 8]];
    ctx.font = `12px ${FONT}`;
    ctx.textAlign = "left";
    ctx.textBaseline = "middle";
    columns.forEach((col, c) => {
      col.forEach((bin, r) => {
        const hx = bx + 4 + 120 * c;
        const y = by + 11.5 + 19.2 * r;
        strokeHandle(ctx, hx, hx + 27, y, BIN_COLORS[bin], 2, null);
        ctx.fillStyle = "#000";
        ctx.fillText(BIN_LABELS[bin], hx + 37, y + 0.5);
      });
    });
    ctx.restore();
  },
};

const bottomExtras = {
  id: "bottomExtras",
  afterDraw(chart: any) {
    const { ctx, chartArea: a } = chart;
    ctx.save();
    const w = 317, h = 93;
    const bx = a.left + 8, by = a.top + 8;
    legendFrame(ctx, bx, by, w, h);
    ctx.font = `14.5px ${FONT}`;
    ctx.textAlign = "left";
    ctx.textBaseline = "middle";
    LEGEND_BOTTOM.forEach((item, r) => {
      const y = by + 11 + 22.4 * r;
      strokeHandle(ctx, bx + 6, bx + 37, y, item.color, item.width, item.dash);
      ctx.fillStyle = "#000";
      ctx.fillText(item.label, bx + 47, y + 0.5);
    });
    ctx.restore();
  },
};

const X_MIN = -76.25;
const X_MAX = 1601.25;

function topConfig(): any {
  const datasets = PROB_BINS.map((rounds, i) => ({
    label: BIN_LABELS[i],
    data: seriesPoints(rounds),
    borderColor: BIN_COLORS[i],
    borderWidth: 2.1,
    borderJoinStyle: "round",
    pointRadius: 0,
    fill: false,
    tension: 0,
    order: PROB_BINS.length - i,
  }));
  return {
    type: "line",
    data: { datasets },
    options: {
      responsive: false,
      animation: false,
      devicePixelRatio: 1,
      parsing: false,
      layout: { padding: { top: 52, right: 40, bottom: 0, left: 0 } },
      plugins: { legend: { display: false }, tooltip: { enabled: false }, title: { display: false }, roundMarkers: { labelAt: 1.0 } },
      scales: {
        x: {
          type: "linear",
          min: X_MIN,
          max: X_MAX,
          ticks: { display: false, stepSize: 200, includeBounds: false },
          grid: { drawOnChartArea: false, drawTicks: true, tickLength: 6, tickColor: "#111", tickWidth: 1.2 },
          border: { display: false },
          afterFit: (s: any) => { s.height = 18; },
        },
        y: {
          type: "linear",
          min: 0,
          max: 1.0567,
          ticks: {
            stepSize: 0.05,
            includeBounds: false,
            callback: (v: number) => v.toFixed(2),
            font: { size: 14, family: FONT },
            color: "#000",
            padding: 8,
          },
          grid: { color: GRID_COLOR, lineWidth: 1, tickLength: 6, tickColor: "#111", tickWidth: 1.2 },
          border: { display: false },
          title: { display: true, text: "Prob", font: { size: 14, family: FONT }, color: "#000", padding: { top: 21, bottom: 0 } },
          afterFit: (s: any) => { s.width = 92; },
        },
      },
    },
    plugins: [roundMarkers, frame, topExtras],
  };
}

function bottomConfig(): any {
  const line = (data: any, color: string, width: number, dash: number[] | null, order: number) => ({
    data,
    borderColor: color,
    borderWidth: width,
    borderDash: dash || [],
    borderCapStyle: "butt",
    borderJoinStyle: "round",
    pointRadius: 0,
    fill: false,
    tension: 0,
    order,
  });
  const datasets: any[] = [
    line(seriesPoints(TRUTH_THOMPSON), LEGEND_BOTTOM[0].color, 3, null, 2),
    line(seriesPoints(TRUTH_PAULS), LEGEND_BOTTOM[1].color, 3, null, 1),
    line(seriesPoints(PRED_THOMPSON), LEGEND_BOTTOM[2].color, 3.4, [3.4, 5.6], 4),
    line(seriesPoints(PRED_PAULS), LEGEND_BOTTOM[3].color, 3.4, [3.4, 5.6], 3),
  ];
  const addBand = (lo: number[][], hi: number[][], rgb: string, order: number) => {
    lo.forEach((vals, r) => {
      datasets.push({ data: roundPoints(r, vals), borderColor: `rgba(${rgb},0.15)`, borderWidth: 1, pointRadius: 0, fill: false, tension: 0, order });
      datasets.push({
        data: roundPoints(r, hi[r]),
        borderColor: `rgba(${rgb},0.15)`,
        borderWidth: 1,
        backgroundColor: `rgba(${rgb},0.15)`,
        pointRadius: 0,
        fill: "-1",
        tension: 0,
        order,
      });
    });
  };
  addBand(BAND_THOMPSON_LO, BAND_THOMPSON_HI, "255,0,0", 6);
  addBand(BAND_PAULS_LO, BAND_PAULS_HI, "0,0,255", 5);

  return {
    type: "line",
    data: { datasets },
    options: {
      responsive: false,
      animation: false,
      devicePixelRatio: 1,
      parsing: false,
      layout: { padding: { top: 24, right: 40, bottom: 0, left: 0 } },
      plugins: { legend: { display: false }, tooltip: { enabled: false }, title: { display: false }, roundMarkers: { labelAt: 60 } },
      scales: {
        x: {
          type: "linear",
          min: X_MIN,
          max: X_MAX,
          ticks: {
            stepSize: 200,
            includeBounds: false,
            autoSkip: false,
            maxRotation: 0,
            font: { size: 14, family: FONT },
            color: "#000",
            padding: 5,
            callback: (v: number) => String(v),
          },
          grid: { drawOnChartArea: false, drawTicks: true, tickLength: 6, tickColor: "#111", tickWidth: 1.2 },
          border: { display: false },
          title: { display: true, text: X_TITLE, font: { size: 21, family: FONT }, color: "#000", padding: { top: 0, bottom: 20 } },
          afterFit: (s: any) => { s.height = 81; },
        },
        y: {
          type: "linear",
          min: -3.06,
          max: 64.74,
          ticks: {
            stepSize: 5,
            includeBounds: false,
            callback: (v: number) => (v % 10 === 0 ? String(v) : ""),
            font: { size: 14, family: FONT },
            color: "#000",
            padding: 8,
          },
          grid: {
            color: GRID_COLOR,
            lineWidth: 1,
            tickLength: 6,
            tickWidth: 1.2,
            tickColor: (ctx: any) => (ctx.tick && ctx.tick.value % 10 === 0 ? "#111" : "rgba(0,0,0,0)"),
          },
          border: { display: false },
          title: { display: true, text: "Count", font: { size: 16, family: FONT }, color: "#000", padding: { top: 33, bottom: 0 } },
          afterFit: (s: any) => { s.width = 92; },
        },
      },
    },
    plugins: [roundMarkers, frame, bottomExtras],
  };
}

export default function App() {
  const topRef = useRef<HTMLCanvasElement>(null);
  const bottomRef = useRef<HTMLCanvasElement>(null);

  useEffect(() => {
    Chart.defaults.font.family = FONT;
    const top = new Chart(topRef.current as HTMLCanvasElement, topConfig());
    const bottom = new Chart(bottomRef.current as HTMLCanvasElement, bottomConfig());
    return () => {
      top.destroy();
      bottom.destroy();
    };
  }, []);

  return (
    <div style={{ position: "absolute", left: 0, top: 0, width: 2100, height: 1200, background: "#fff", overflow: "hidden" }}>
      <canvas ref={topRef} width={2100} height={690} style={{ position: "absolute", left: 0, top: 0 }} />
      <canvas ref={bottomRef} width={2100} height={520} style={{ position: "absolute", left: 0, top: 680 }} />
    </div>
  );
}
